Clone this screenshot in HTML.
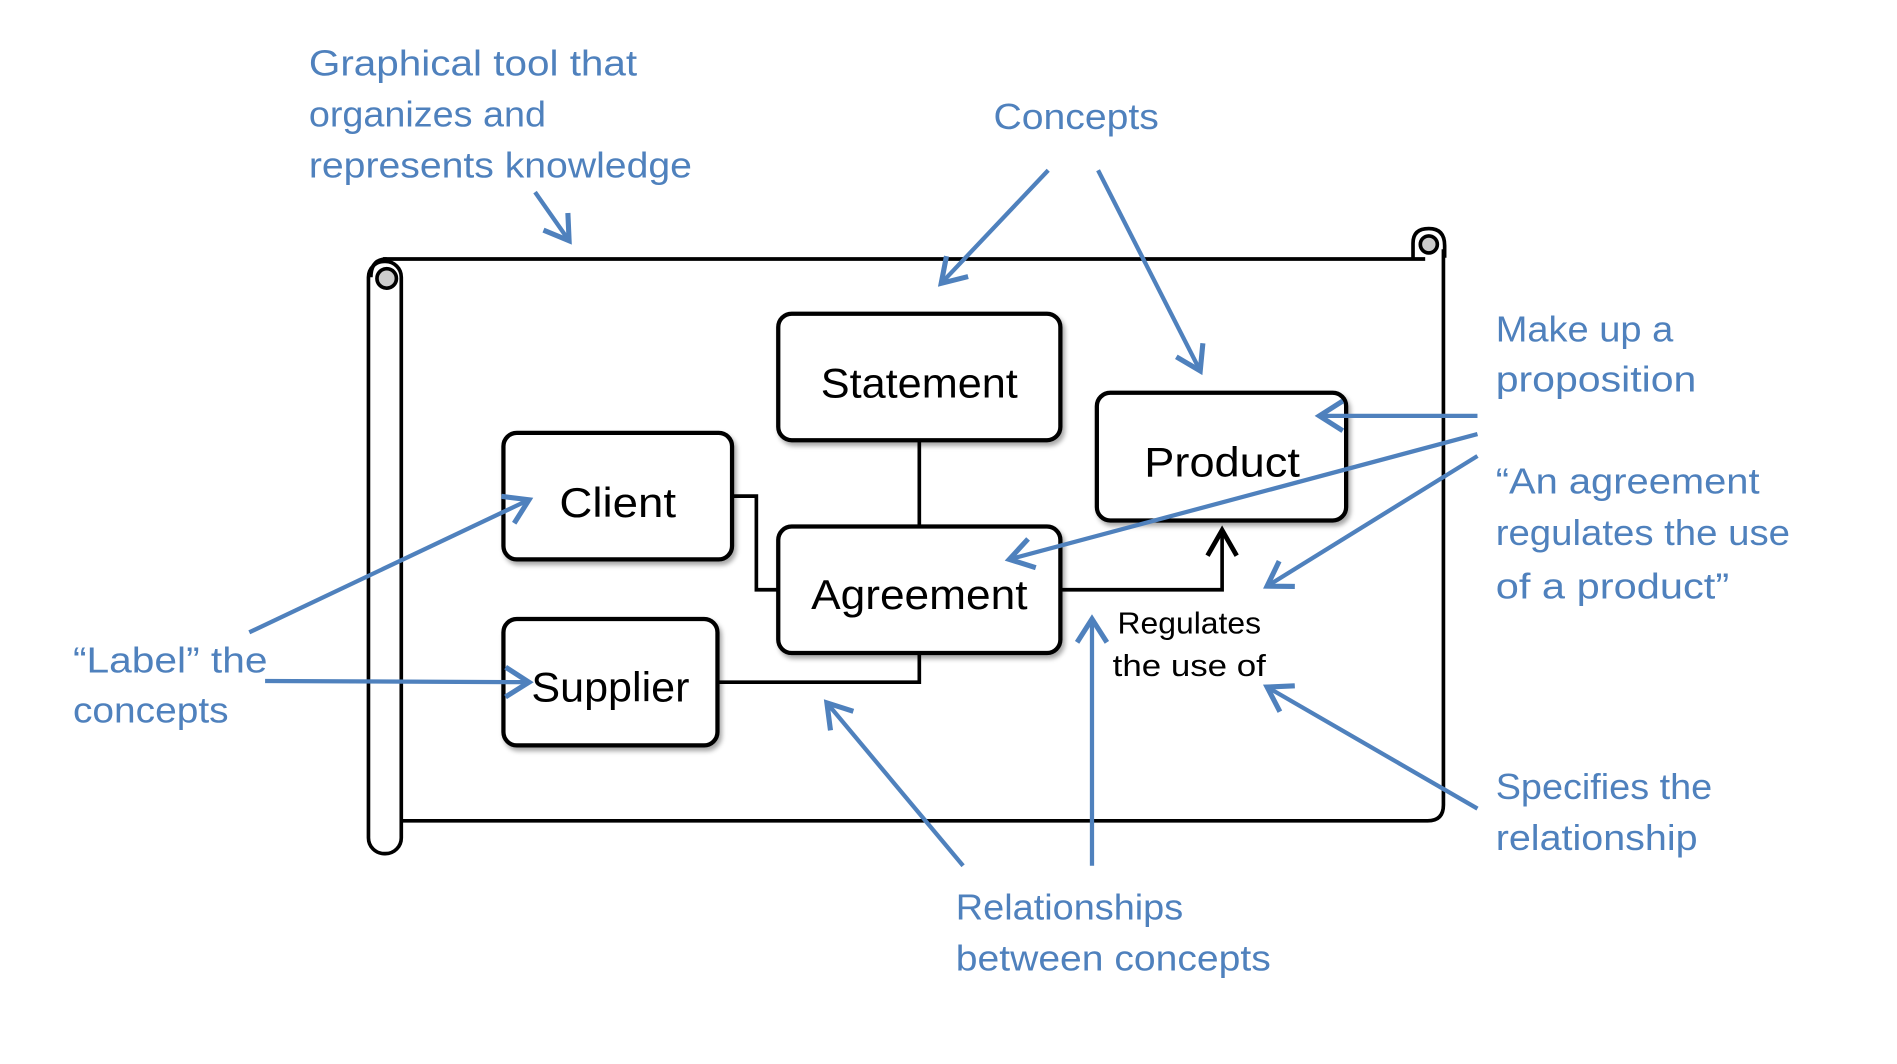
<!DOCTYPE html>
<html><head><meta charset="utf-8"><style>
html,body{margin:0;padding:0;background:#fff;}
svg{display:block;}
.b{font-family:"Liberation Sans",sans-serif;fill:#4f81bd;font-size:30px;}
.k{font-family:"Liberation Sans",sans-serif;fill:#000;font-size:34px;text-anchor:middle;}
.s{font-family:"Liberation Sans",sans-serif;fill:#000;font-size:25px;text-anchor:middle;}
</style></head><body>
<svg width="1897" height="1064" viewBox="0 0 1560 875" preserveAspectRatio="none" xmlns="http://www.w3.org/2000/svg">
<defs>
<marker id="ba" markerWidth="8" markerHeight="8" refX="6" refY="4" orient="auto" markerUnits="strokeWidth"><path d="M0.5,0.5 L6,4 L0.5,7.5" fill="none" stroke="#4f81bd" stroke-width="1.2"/></marker>
<marker id="ka" markerWidth="10" markerHeight="10" refX="8" refY="5" orient="auto" markerUnits="strokeWidth"><path d="M1,1 L8,5 L1,9" fill="none" stroke="#000" stroke-width="1.3"/></marker>
<filter id="sh" x="-10%" y="-10%" width="130%" height="130%"><feDropShadow dx="2" dy="3" stdDeviation="2" flood-opacity="0.35"/></filter>
</defs>
<!-- scroll -->
<g fill="none" stroke="#000" stroke-width="3">
<path d="M315,213 L1172,213"/>
<path d="M1187,205 L1187,662 Q1187,675 1174,675 L330,675"/>
<rect x="303" y="215" width="27" height="487" rx="13" fill="#fff"/>
<path d="M305,228 Q305,213 318,213"/>
<circle cx="318" cy="229" r="8" fill="#ccc"/>
<path d="M1162,212 L1162,200 Q1162,188 1175,188 Q1188,188 1188,202 L1188,212"/>
<circle cx="1175" cy="201" r="7" fill="#ccc"/>
</g>
<!-- connectors -->
<g fill="none" stroke="#000" stroke-width="3">
<path d="M756,362 L756,433"/>
<path d="M602,408 L622,408 L622,485 L640,485"/>
<path d="M590,561 L756,561 L756,537"/>
<path d="M872,485 L1005,485 L1005,436" marker-end="url(#ka)"/>
</g>
<!-- boxes -->
<g fill="#fff" stroke="#000" stroke-width="3.5" filter="url(#sh)">
<rect x="640" y="258" width="232" height="104" rx="11"/>
<rect x="902" y="323" width="205" height="105" rx="11"/>
<rect x="414" y="356" width="188" height="104" rx="11"/>
<rect x="640" y="433" width="232" height="104" rx="11"/>
<rect x="414" y="509" width="176" height="104" rx="11"/>
</g>
<text class="k" x="756" y="327" textLength="162" lengthAdjust="spacingAndGlyphs">Statement</text>
<text class="k" x="1005" y="392" textLength="128" lengthAdjust="spacingAndGlyphs">Product</text>
<text class="k" x="508" y="425" textLength="96" lengthAdjust="spacingAndGlyphs">Client</text>
<text class="k" x="756" y="501" textLength="178" lengthAdjust="spacingAndGlyphs">Agreement</text>
<text class="k" x="502" y="577" textLength="130" lengthAdjust="spacingAndGlyphs">Supplier</text>
<text class="s" x="978" y="521" textLength="118" lengthAdjust="spacingAndGlyphs">Regulates</text>
<text class="s" x="978" y="556" textLength="126" lengthAdjust="spacingAndGlyphs">the use of</text>
<!-- blue arrows -->
<g fill="none" stroke="#4f81bd" stroke-width="3.5" marker-end="url(#ba)">
<path d="M440,158 L468,198"/>
<path d="M862,140 L774,233"/>
<path d="M903,140 L987,305"/>
<path d="M1215,342 L1085,342"/>
<path d="M1215,357 L830,460"/>
<path d="M1215,375 L1042,482"/>
<path d="M205,520 L435,411"/>
<path d="M218,560 L435,561"/>
<path d="M792,712 L680,578"/>
<path d="M898,712 L898,509"/>
<path d="M1215,665 L1042,565"/>
</g>
<!-- blue text -->
<text class="b" x="254" y="62" textLength="270" lengthAdjust="spacingAndGlyphs">Graphical tool that</text>
<text class="b" x="254" y="104" textLength="195" lengthAdjust="spacingAndGlyphs">organizes and</text>
<text class="b" x="254" y="146" textLength="315" lengthAdjust="spacingAndGlyphs">represents knowledge</text>
<text class="b" x="817" y="106" textLength="136" lengthAdjust="spacingAndGlyphs">Concepts</text>
<text class="b" x="1230" y="281" textLength="146" lengthAdjust="spacingAndGlyphs">Make up a</text>
<text class="b" x="1230" y="322" textLength="165" lengthAdjust="spacingAndGlyphs">proposition</text>
<text class="b" x="1230" y="406" textLength="217" lengthAdjust="spacingAndGlyphs">“An agreement</text>
<text class="b" x="1230" y="448" textLength="242" lengthAdjust="spacingAndGlyphs">regulates the use</text>
<text class="b" x="1230" y="492" textLength="192" lengthAdjust="spacingAndGlyphs">of a product”</text>
<text class="b" x="60" y="553" textLength="160" lengthAdjust="spacingAndGlyphs">“Label” the</text>
<text class="b" x="60" y="594" textLength="128" lengthAdjust="spacingAndGlyphs">concepts</text>
<text class="b" x="1230" y="657" textLength="178" lengthAdjust="spacingAndGlyphs">Specifies the</text>
<text class="b" x="1230" y="699" textLength="166" lengthAdjust="spacingAndGlyphs">relationship</text>
<text class="b" x="786" y="756" textLength="187" lengthAdjust="spacingAndGlyphs">Relationships</text>
<text class="b" x="786" y="798" textLength="259" lengthAdjust="spacingAndGlyphs">between concepts</text>
</svg>
</body></html>
